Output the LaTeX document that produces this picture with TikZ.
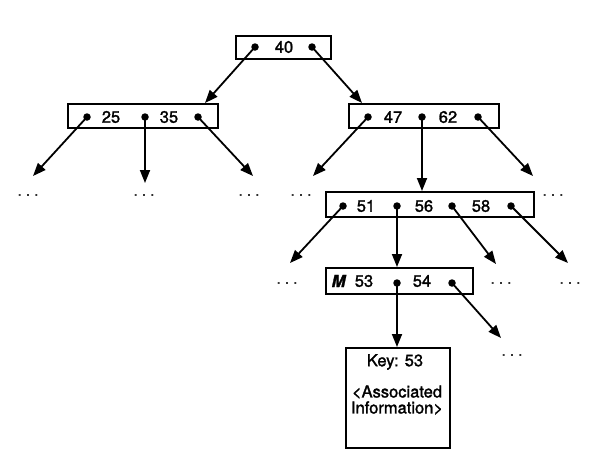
\documentclass[tikz,border=0pt]{standalone}
\usepackage{fontspec}
\setmainfont{TeX Gyre Heros}
\newfontfamily\heavy[FakeBold=1.6]{TeX Gyre Heros}
\usetikzlibrary{arrows.meta}
\begin{document}
\begin{tikzpicture}[x=1pt,y=-1pt,
  box/.style={draw, line width=1.6pt, inner sep=0pt, anchor=north west},
  ptr/.style={circle, fill, inner sep=0pt, minimum size=7.5pt},
  arr/.style={line width=1.8pt, -{Triangle[length=13pt,width=10pt]}},
  lbl/.style={font=\heavy\fontsize{16.5}{16}\selectfont, inner sep=0pt},
  more/.style={font=\heavy\fontsize{14}{14}\selectfont, inner sep=0pt}]
\useasboundingbox (0,0) rectangle (603,474);

% boxes
\node[box, minimum width=95pt, minimum height=23pt] (root) at (235,35) {};
\node[box, minimum width=150pt, minimum height=24pt] (lbox) at (67,103) {};
\node[box, minimum width=150pt, minimum height=24pt] (rbox) at (348,103) {};
\node[box, minimum width=208pt, minimum height=25pt] (sbox) at (325,191) {};
\node[box, minimum width=147pt, minimum height=26pt] (mbox) at (325,267) {};
\node[box, minimum width=104pt, minimum height=100pt] (kbox) at (345,347) {};

% keys
\node[lbl] (k40) at (284,47) {40};
\node[lbl] (k25) at (111,117) {25};
\node[lbl] (k35) at (169,117) {35};
\node[lbl] (k47) at (393,117) {47};
\node[lbl] (k62) at (448,117) {62};
\node[lbl] (k51) at (366,206) {51};
\node[lbl] (k56) at (424,206) {56};
\node[lbl] (k58) at (481,206) {58};
\node[lbl] (kM) at (339,281) {\textbf{\textit{M}}};
\node[lbl] (k53) at (364,281) {53};
\node[lbl] (k54) at (422,281) {54};
\node[lbl] (key) at (395,362) {Key: 53};
\node[lbl, align=center] (info) at (397,400) {\textless Associated\\Information\textgreater};

% pointers
\node[ptr] (r1) at (255,47) {};
\node[ptr] (r2) at (312,47) {};
\node[ptr] (l1) at (87,117) {};
\node[ptr] (l2) at (145,117) {};
\node[ptr] (l3) at (198,117) {};
\node[ptr] (q1) at (368,117) {};
\node[ptr] (q2) at (422,117) {};
\node[ptr] (q3) at (478,117) {};
\node[ptr] (s1) at (343,206) {};
\node[ptr] (s2) at (397,206) {};
\node[ptr] (s3) at (452,206) {};
\node[ptr] (s4) at (511,206) {};
\node[ptr] (m1) at (397,283) {};
\node[ptr] (m2) at (452,283) {};

% ellipses
\node[more] (e1) at (28,195) {.\hspace{4.5pt}.\hspace{4.5pt}.};
\node[more] (e2) at (144,195) {.\hspace{4.5pt}.\hspace{4.5pt}.};
\node[more] (e3) at (249,195) {.\hspace{4.5pt}.\hspace{4.5pt}.};
\node[more] (e4) at (301,195) {.\hspace{4.5pt}.\hspace{4.5pt}.};
\node[more] (e5) at (553,195) {.\hspace{4.5pt}.\hspace{4.5pt}.};
\node[more] (e6) at (287,283) {.\hspace{4.5pt}.\hspace{4.5pt}.};
\node[more] (e7) at (501,283) {.\hspace{4.5pt}.\hspace{4.5pt}.};
\node[more] (e8) at (570,283) {.\hspace{4.5pt}.\hspace{4.5pt}.};
\node[more] (e9) at (512,355) {.\hspace{4.5pt}.\hspace{4.5pt}.};

% arrow targets
\coordinate (tl) at (205,103);
\coordinate (tr) at (362,103);
\coordinate (a1) at (33,176);
\coordinate (a2) at (145,183);
\coordinate (a3) at (253,176);
\coordinate (b1) at (313,176);
\coordinate (sb) at (422,191);
\coordinate (b3) at (533,176);
\coordinate (c1) at (290,263);
\coordinate (mb) at (397,267);
\coordinate (c3) at (496,264);
\coordinate (c4) at (568,263);
\coordinate (kb) at (397,347);
\coordinate (d2) at (501,338);

% connectors
\draw[arr] (r1.center) -- (tl);
\draw[arr] (r2.center) -- (tr);
\draw[arr] (l1.center) -- (a1);
\draw[arr] (l2.center) -- (a2);
\draw[arr] (l3.center) -- (a3);
\draw[arr] (q1.center) -- (b1);
\draw[arr] (q2.center) -- (sb);
\draw[arr] (q3.center) -- (b3);
\draw[arr] (s1.center) -- (c1);
\draw[arr] (s2.center) -- (mb);
\draw[arr] (s3.center) -- (c3);
\draw[arr] (s4.center) -- (c4);
\draw[arr] (m1.center) -- (kb);
\draw[arr] (m2.center) -- (d2);
\end{tikzpicture}
\end{document}
